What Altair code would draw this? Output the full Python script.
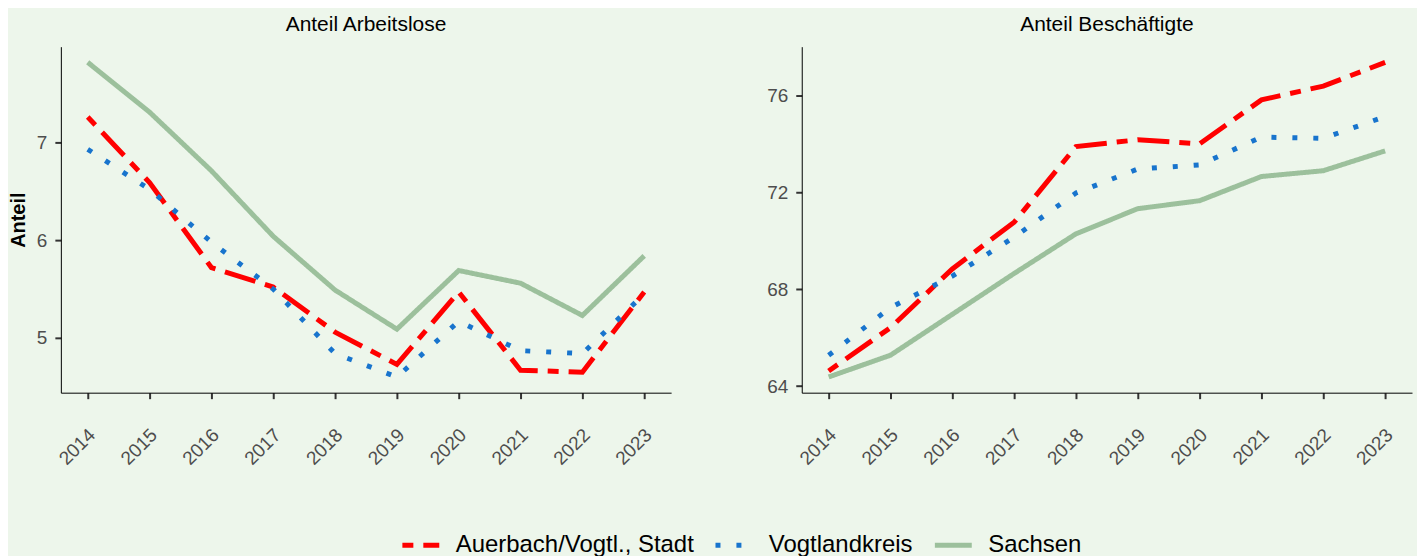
import altair as alt
import pandas as pd

years = [2014, 2015, 2016, 2017, 2018, 2019, 2020, 2021, 2022, 2023]
regions = ["Auerbach/Vogtl., Stadt", "Vogtlandkreis", "Sachsen"]

alo_auerbach = [7.26, 6.59, 5.72, 5.52, 5.06, 4.73, 5.47, 4.67, 4.65, 5.47]
alo_vogtland = [6.93, 6.52, 5.98, 5.50, 4.84, 4.60, 5.17, 4.87, 4.84, 5.45]
alo_sachsen = [7.82, 7.31, 6.71, 6.04, 5.49, 5.09, 5.69, 5.56, 5.23, 5.84]

besch_auerbach = [64.63, 66.42, 68.85, 70.78, 73.91, 74.19, 74.02, 75.84, 76.41, 77.39]
besch_vogtland = [65.28, 67.25, 68.55, 70.16, 71.99, 72.98, 73.15, 74.30, 74.25, 75.15]
besch_sachsen = [64.38, 65.28, 66.97, 68.66, 70.30, 71.34, 71.67, 72.67, 72.91, 73.73]

colors = ["#FF0000", "#1874CD", "#9CC09C"]
dashes = [[11, 10, 32, 10], [5, 16], [1, 0]]
FONT = "Liberation Sans"


def frame(series):
    rows = []
    for reg, vals in zip(regions, series):
        for y, v in zip(years, vals):
            rows.append({"year": y, "region": reg, "value": v})
    return pd.DataFrame(rows)


df_alo = frame([alo_auerbach, alo_vogtland, alo_sachsen])
df_besch = frame([besch_auerbach, besch_vogtland, besch_sachsen])

color_enc = alt.Color(
    "region:N",
    scale=alt.Scale(domain=regions, range=colors),
    legend=alt.Legend(title=None),
)
dash_enc = alt.StrokeDash(
    "region:N",
    scale=alt.Scale(domain=regions, range=dashes),
    legend=alt.Legend(title=None),
)

x_enc = alt.X(
    "year:Q",
    scale=alt.Scale(domain=[2013.565, 2023.435], nice=False, zero=False),
    axis=alt.Axis(
        values=years,
        format="d",
        labelAngle=315,
        labelAlign="right",
        labelBaseline="middle",
        labelPadding=33,
        labelOffset=4,
        labelFlush=False,
        title=None,
    ),
)


def panel(df, title, domain, ticks, ytitle):
    if ytitle:
        yax = alt.Axis(values=ticks, title=ytitle)
    else:
        yax = alt.Axis(values=ticks, title=None)
    return (
        alt.Chart(df)
        .mark_line(strokeWidth=5)
        .encode(
            x=x_enc,
            y=alt.Y("value:Q", scale=alt.Scale(domain=domain, nice=False, zero=False), axis=yax),
            color=color_enc,
            strokeDash=dash_enc,
            order=alt.Order("year:Q"),
        )
        .properties(
            width=612,
            height=347,
            title=alt.TitleParams(
                title, fontSize=21, fontWeight="normal", color="black",
                font=FONT, offset=12, anchor="middle",
            ),
        )
    )


left = panel(df_alo, "Anteil Arbeitslose", [4.44, 7.98], [5, 6, 7], "Anteil")
right = panel(df_besch, "Anteil Beschäftigte", [63.73, 78.04], [64, 68, 72, 76], None)

chart = (
    alt.hconcat(left, right, spacing=95)
    .properties(background="#EDF6EB", padding={"left": 0, "top": 5, "right": 5, "bottom": 0})
    .configure_view(strokeWidth=0)
    .configure_axis(
        grid=False,
        domainColor="black",
        domainWidth=1,
        tickColor="#333333",
        tickWidth=2,
        tickSize=6,
        labelPadding=8,
        labelFont=FONT,
        labelFontSize=19,
        labelColor="#4D4D4D",
        titleFont=FONT,
        titleFontSize=20,
        titleFontWeight="bold",
        titleColor="black",
        titlePadding=8,
    )
    .configure_axisX(labelPadding=33)
    .configure_legend(
        orient="none",
        legendX=340,
        legendY=479,
        direction="horizontal",
        columns=3,
        symbolType="stroke",
        symbolSize=1369,
        symbolStrokeWidth=5,
        labelFont=FONT,
        labelFontSize=24,
        labelColor="black",
        labelOffset=14,
        labelLimit=500,
        columnPadding=11,
        padding=0,
    )
)

chart.save("out.html", embed_options={"renderer": "svg", "actions": False})
